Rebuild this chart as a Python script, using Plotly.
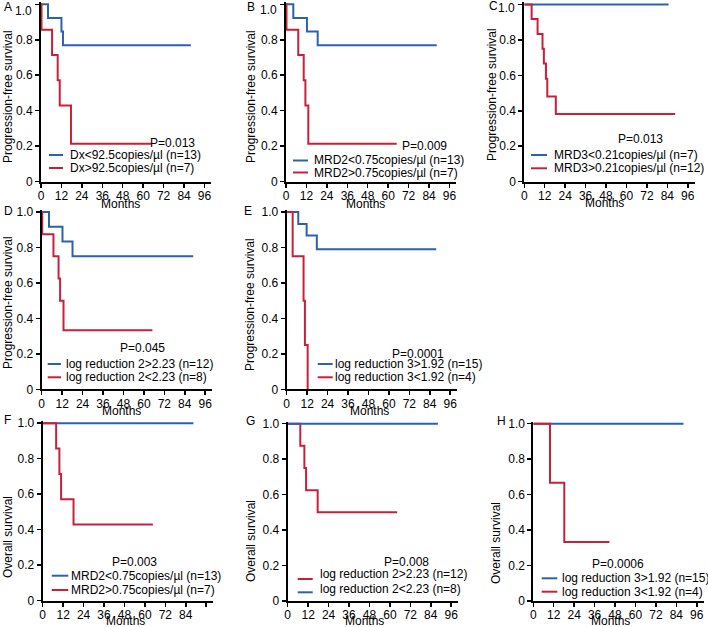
import plotly.graph_objects as go

W, H = 708, 627
BLUE = "#2B62B0"
RED = "#C8203A"
FONT = "Arial, Liberation Sans, sans-serif"

# ---------------- data (Kaplan-Meier step curves) ----------------
# Panel A: Dx
a_blue_t = [0, 4.1, 12.0, 12.9, 88.0]
a_blue_s = [1.0, 0.923, 0.846, 0.769, 0.769]
a_red_t = [0, 0.3, 6.5, 9.8, 11.0, 17.6, 65.0]
a_red_s = [1.0, 0.857, 0.714, 0.571, 0.429, 0.214, 0.214]
# Panel B: MRD2 PFS
b_blue_t = [0, 4.3, 12.3, 18.6, 88.5]
b_blue_s = [1.0, 0.923, 0.846, 0.769, 0.769]
b_red_t = [0, 0.3, 7.2, 10.4, 11.4, 13.1, 65.0]
b_red_s = [1.0, 0.857, 0.714, 0.571, 0.429, 0.214, 0.214]
# Panel C: MRD3 PFS
c_blue_t = [0, 84.7]
c_blue_s = [1.0, 1.0]
c_red_t = [0, 4.3, 7.8, 10.7, 11.5, 12.7, 13.5, 18.5, 88.6]
c_red_s = [1.0, 0.917, 0.833, 0.75, 0.667, 0.58, 0.48, 0.382, 0.382]
# Panel D: log reduction 2 PFS
d_blue_t = [0, 4.3, 12.2, 18.1, 89.0]
d_blue_s = [1.0, 0.917, 0.833, 0.75, 0.75]
d_red_t = [0, 0.3, 6.9, 9.9, 10.8, 12.8, 65.0]
d_red_s = [1.0, 0.875, 0.75, 0.625, 0.5, 0.333, 0.333]
# Panel E: log reduction 3 PFS
e_blue_t = [0, 6.8, 11.7, 17.7, 87.8]
e_blue_s = [1.0, 0.933, 0.867, 0.79, 0.79]
e_red_t = [0, 3.5, 9.9, 10.7, 12.3]
e_red_s = [1.0, 0.75, 0.5, 0.25, 0.0]
# Panel F: MRD2 OS
f_blue_t = [0, 88.5]
f_blue_s = [1.0, 1.0]
f_red_t = [0, 7.9, 9.8, 10.8, 18.1, 64.7]
f_red_s = [1.0, 0.857, 0.714, 0.571, 0.429, 0.429]
# Panel G: log reduction 2 OS
g_blue_t = [0, 88.2]
g_blue_s = [1.0, 1.0]
g_red_t = [0, 7.4, 9.8, 10.8, 17.6, 64.3]
g_red_s = [1.0, 0.875, 0.75, 0.625, 0.5, 0.5]
# Panel H: log reduction 3 OS
h_blue_t = [0, 88.2]
h_blue_s = [1.0, 1.0]
h_red_t = [0, 9.8, 18.2, 44.7]
h_red_s = [1.0, 0.667, 0.333, 0.333]

x_ticks = [0, 12, 24, 36, 48, 60, 72, 84, 96]
x_labels = ["0", "12", "24", "36", "48", "60", "72", "84", "96"]
x_labels_f = ["0", "12", "24", "36", "48", "60", "72", "84", ""]
y_ticks = [0, 0.2, 0.4, 0.6, 0.8, 1.0]
y_labels = ["0", "0.2", "0.4", "0.6", "0.8", "1.0"]
y_labels_top = ["0", "0.2", "0.4", "0.6", "0.8", ""]

PFS = "Progression-free survival"
OS = "Overall survival"

panels = [
    dict(letter="A", x0=41.0, y0=181.6, ytitle=PFS,
         curves=[(a_blue_t, a_blue_s, BLUE), (a_red_t, a_red_s, RED)],
         leg=[("Dx<92.5copies/µl (n=13)", BLUE), ("Dx>92.5copies/µl (n=7)", RED)],
         p="P=0.013", p_xy=(172, 143), leg_x=(49, 63, 68), leg_y=(155, 168),
         lab_xy=(1.5, 7), yt_xy=(8, 97), mo_xy=(120, 203.5), xl=x_labels, top=10.5),
    dict(letter="B", x0=286.0, y0=181.6, ytitle=PFS,
         curves=[(b_blue_t, b_blue_s, BLUE), (b_red_t, b_red_s, RED)],
         leg=[("MRD2<0.75copies/µl (n=13)", BLUE), ("MRD2>0.75copies/µl (n=7)", RED)],
         p="P=0.009", p_xy=(424, 146), leg_x=(293, 308, 312), leg_y=(160.5, 172.5),
         lab_xy=(245, 7), yt_xy=(251, 97), mo_xy=(365, 203.5), xl=x_labels, top=10),
    dict(letter="C", x0=524.3, y0=181.7, ytitle=PFS,
         curves=[(c_blue_t, c_blue_s, BLUE), (c_red_t, c_red_s, RED)],
         leg=[("MRD3<0.21copies/µl (n=7)", BLUE), ("MRD3>0.21copies/µl (n=12)", RED)],
         p="P=0.013", p_xy=(640, 138.5), leg_x=(531, 547, 552), leg_y=(155, 168.3),
         lab_xy=(486.5, 6), yt_xy=(492, 95), mo_xy=(604, 202.5), xl=x_labels, top=7.5),
    dict(letter="D", x0=41.7, y0=389.3, ytitle=PFS,
         curves=[(d_blue_t, d_blue_s, BLUE), (d_red_t, d_red_s, RED)],
         leg=[("log reduction 2>2.23 (n=12)", BLUE), ("log reduction 2<2.23 (n=8)", RED)],
         p="P=0.045", p_xy=(142.5, 348), leg_x=(47.7, 61, 64), leg_y=(364, 377.3),
         lab_xy=(1.5, 211), yt_xy=(8, 303), mo_xy=(121, 411), xl=x_labels),
    dict(letter="E", x0=286.7, y0=389.3, ytitle=PFS,
         curves=[(e_blue_t, e_blue_s, BLUE), (e_red_t, e_red_s, RED)],
         leg=[("log reduction 3>1.92 (n=15)", BLUE), ("log reduction 3<1.92 (n=4)", RED)],
         p="P=0.0001", p_xy=(418, 353.5), leg_x=(317.7, 332.7, 333.3), leg_y=(364, 377.3),
         lab_xy=(242, 211), yt_xy=(250, 305), mo_xy=(369, 411), xl=x_labels),
    dict(letter="F", x0=42.7, y0=600.5, ytitle=OS,
         curves=[(f_blue_t, f_blue_s, BLUE), (f_red_t, f_red_s, RED)],
         leg=[("MRD2<0.75copies/µl (n=13)", BLUE), ("MRD2>0.75copies/µl (n=7)", RED)],
         p="P=0.003", p_xy=(134, 561.7), leg_x=(51.7, 68.3, 69), leg_y=(575.7, 590),
         lab_xy=(1.5, 420), yt_xy=(8, 537), mo_xy=(125, 621), xl=x_labels_f),
    dict(letter="G", x0=287.7, y0=601.0, ytitle=OS,
         curves=[(g_red_t, g_red_s, RED), (g_blue_t, g_blue_s, BLUE)],
         leg=[("log reduction 2>2.23 (n=12)", RED), ("log reduction 2<2.23 (n=8)", BLUE)],
         p="P=0.008", p_xy=(406, 561.7), leg_x=(297.7, 312.7, 317.7), leg_y=(579, 592.3),
         lab_xy=(243.5, 421), yt_xy=(251, 541), mo_xy=(364, 621), xl=x_labels, text_y=(574, 589)),
    dict(letter="H", x0=533.3, y0=601.0, ytitle=OS,
         curves=[(h_blue_t, h_blue_s, BLUE), (h_red_t, h_red_s, RED)],
         leg=[("log reduction 3>1.92 (n=15)", BLUE), ("log reduction 3<1.92 (n=4)", RED)],
         p="P=0.0006", p_xy=(618, 564.3), leg_x=(541.7, 557.3, 559.5), leg_y=(578.3, 591.7),
         lab_xy=(495.5, 421), yt_xy=(496, 543), mo_xy=(610, 621), xl=x_labels),
]

PX_PER_MONTH = 1.703
PX_PER_UNIT = 177.3
XMAX = 100
YMAX = 1.012


def px(x):
    return x / W


def py(y):
    return 1 - y / H


fig = go.Figure()
layout = dict(
    template="none",
    width=W, height=H, margin=dict(l=0, r=0, t=0, b=0, pad=0), autosize=False,
    paper_bgcolor="white", plot_bgcolor="white", showlegend=False,
    font=dict(family=FONT, size=12, color="black"),
)
annotations = []
shapes = []

for i, p in enumerate(panels, start=1):
    xa = "xaxis" if i == 1 else f"xaxis{i}"
    ya = "yaxis" if i == 1 else f"yaxis{i}"
    xr = "x" if i == 1 else f"x{i}"
    yr = "y" if i == 1 else f"y{i}"
    x1px = p["x0"] + XMAX * PX_PER_MONTH
    ytop = p["y0"] - YMAX * PX_PER_UNIT
    top = p.get("top")
    layout[xa] = dict(
        domain=[px(p["x0"]), px(x1px)], range=[0, XMAX], anchor=yr, automargin=False,
        tickvals=x_ticks, ticktext=p["xl"], ticks="outside", ticklen=4, tickwidth=1.5,
        ticklabelstandoff=-2,
        tickcolor="black", showline=True, linecolor="black", linewidth=2,
        showgrid=False, zeroline=False, fixedrange=True,
        tickfont=dict(size=12, family=FONT, color="black"),
    )
    layout[ya] = dict(
        domain=[py(p["y0"]), py(ytop)], range=[0, YMAX], anchor=xr, automargin=False,
        tickvals=y_ticks, ticktext=(y_labels_top if top else y_labels),
        ticks="outside", ticklen=4, tickwidth=1.5,
        tickcolor="black", showline=True, linecolor="black", linewidth=2,
        showgrid=False, zeroline=False, fixedrange=True,
        tickfont=dict(size=12, family=FONT, color="black"),
    )
    if top:
        annotations.append(dict(text="1.0", x=px(p["x0"] - 7.5), y=py(top),
                                xref="paper", yref="paper", xanchor="right", yanchor="middle",
                                showarrow=False, font=dict(size=12, family=FONT)))
    for t, s, c in p["curves"]:
        fig.add_trace(go.Scatter(x=t, y=s, mode="lines", line=dict(color=c, width=2, shape="hv"),
                                 xaxis=xr, yaxis=yr, hoverinfo="skip"))
    annotations.append(dict(text=p["letter"], x=px(p["lab_xy"][0]), y=py(p["lab_xy"][1]),
                            xref="paper", yref="paper", xanchor="left", yanchor="middle",
                            showarrow=False, font=dict(size=12, family=FONT)))
    annotations.append(dict(text=p["ytitle"], x=px(p["yt_xy"][0]), y=py(p["yt_xy"][1]),
                            xref="paper", yref="paper", xanchor="center", yanchor="middle",
                            textangle=-90, showarrow=False, font=dict(size=12, family=FONT)))
    annotations.append(dict(text="Months", x=px(p["mo_xy"][0]), y=py(p["mo_xy"][1]),
                            xref="paper", yref="paper", xanchor="center", yanchor="middle",
                            showarrow=False, font=dict(size=12, family=FONT)))
    annotations.append(dict(text=p["p"], x=px(p["p_xy"][0]), y=py(p["p_xy"][1]),
                            xref="paper", yref="paper", xanchor="center", yanchor="middle",
                            showarrow=False, font=dict(size=12, family=FONT)))
    lx0, lx1, tx = p["leg_x"]
    ty = p.get("text_y", p["leg_y"])
    for (txt, col), yl, yt in zip(p["leg"], p["leg_y"], ty):
        shapes.append(dict(type="line", xref="paper", yref="paper",
                           x0=px(lx0), x1=px(lx1), y0=py(yl), y1=py(yl),
                           line=dict(color=col, width=2)))
        annotations.append(dict(text=txt, x=px(tx), y=py(yt), xref="paper", yref="paper",
                                xanchor="left", yanchor="middle", showarrow=False,
                                font=dict(size=12, family=FONT)))

layout["annotations"] = annotations
layout["shapes"] = shapes
fig.update_layout(**layout)
fig.write_html(
    "out.html",
    config={"displayModeBar": False, "staticPlot": True},
    post_script="document.body.style.margin='0';document.body.style.padding='0';"
                "document.body.style.overflow='hidden';",
)
